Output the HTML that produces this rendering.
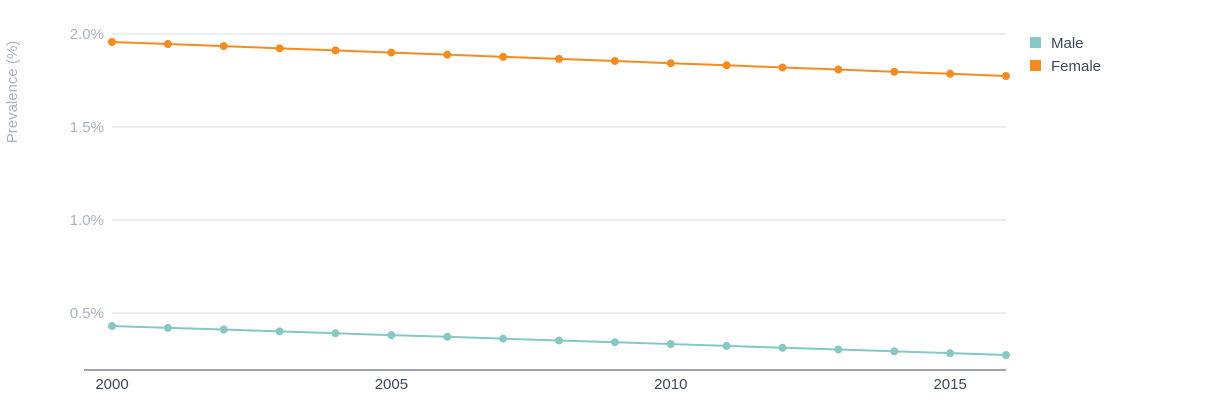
<!DOCTYPE html>
<html><head><meta charset="utf-8">
<style>
body{margin:0;background:#fff;width:1230px;height:402px;overflow:hidden;font-family:"Liberation Sans",sans-serif;}
svg{display:block}
</style></head>
<body>
<svg id="chart" width="1230" height="402" viewBox="0 0 1230 402">
<text x="0" y="0" transform="translate(17,92) rotate(-90)" text-anchor="middle" font-size="15" fill="#a9b3c0">Prevalence (%)</text>
<g id="grid"></g><g id="series"></g>
<g>
<g>
<rect x="1030" y="37" width="11" height="11" fill="#86c8c4"/>
<text x="1051" y="48" font-size="15" fill="#3d4a5a">Male</text></g>
<g>
<rect x="1030" y="60" width="11" height="11" fill="#f68b1f"/>
<text x="1051" y="71" font-size="15" fill="#3d4a5a">Female</text></g>
</g>
</svg>
<script>
const years=[2000,2001,2002,2003,2004,2005,2006,2007,2008,2009,2010,2011,2012,2013,2014,2015,2016];
const female=[1.957,1.946,1.935,1.923,1.912,1.900,1.889,1.877,1.866,1.855,1.843,1.832,1.820,1.809,1.797,1.786,1.774];
const male=[0.430,0.420,0.411,0.401,0.391,0.381,0.372,0.362,0.352,0.343,0.333,0.323,0.313,0.304,0.294,0.284,0.274];
const yTicks=[0.5,1.0,1.5,2.0];
const yTickLabels=["0.5%","1.0%","1.5%","2.0%"];
const xTicks=[2000,2005,2010,2015];
const NS="http://www.w3.org/2000/svg";
const x=v=>112+(v-2000)*(1006-112)/16;
const y=v=>34+(2.0-v)*186;
const grid=document.getElementById('grid'),ser=document.getElementById('series');
function mk(t,a,p){const e=document.createElementNS(NS,t);for(const k in a)e.setAttribute(k,a[k]);p.appendChild(e);return e;}
yTicks.forEach((v,i)=>{
 const l=mk('line',{x1:112,x2:1006,y1:y(v),y2:y(v),stroke:'#d6dee7','stroke-width':1},grid);
 
 
 const t=mk('text',{x:104,y:y(v)+5,'text-anchor':'end','font-size':15,fill:'#a9b3c0'},grid);
 t.textContent=yTickLabels[i];
 
 
});
const ax=mk('line',{x1:84,x2:1006,y1:370,y2:370,stroke:'#3d4a5a','stroke-width':1},grid);


xTicks.forEach(v=>{
 const t=mk('text',{x:x(v),y:389,'text-anchor':'middle','font-size':15,fill:'#3d4a5a'},grid);
 t.textContent=v;
 
 
});
function draw(vals,color,name){
 const p=mk('polyline',{points:vals.map((v,i)=>x(years[i])+','+y(v)).join(' '),fill:'none',stroke:color,'stroke-width':2},ser);
 
 
 vals.forEach((v,i)=>{
  const c=mk('circle',{cx:x(years[i]),cy:y(v),r:4,fill:color},ser);
  
  
 });
}
draw(female,'#f68b1f','female');
draw(male,'#86c8c4','male');
</script>
</body></html>
